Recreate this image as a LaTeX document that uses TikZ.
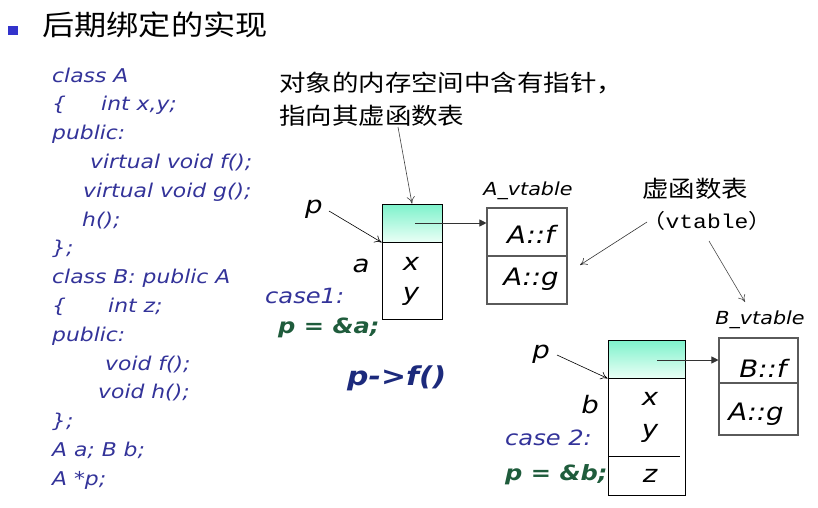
\documentclass[tikz,border=0pt]{standalone}
\usepackage{fontspec}
\setmainfont{DejaVu Sans}[FakeStretch=1.15]
\newfontfamily\cjk{Noto Sans CJK SC}[FakeStretch=1.15]
\newfontfamily\monof{Liberation Mono}[FakeStretch=1.15]
\usetikzlibrary{arrows.meta}
\definecolor{codeblue}{HTML}{333399}
\definecolor{codegreen}{HTML}{1F5C3C}
\definecolor{callblue}{HTML}{1C2A7C}
\definecolor{bulletblue}{HTML}{3333CC}
\definecolor{headtop}{HTML}{7DF2CB}
\definecolor{headbot}{HTML}{EAFFF6}
\definecolor{vtgray}{HTML}{5A5A5A}
\tikzset{
  txt/.style={inner sep=0pt, anchor=base west},
  code/.style={txt, text=codeblue, font=\fontsize{19}{20}\selectfont\itshape},
  casetxt/.style={txt, text=codeblue, font=\fontsize{21}{22}\selectfont\itshape},
  assign/.style={txt, text=codegreen, font=\fontsize{21}{22}\selectfont\bfseries\itshape},
  lbl/.style={inner sep=0pt, anchor=base, font=\fontsize{24}{24}\selectfont\itshape},
  cjktxt/.style={inner sep=0pt, anchor=west, font=\fontsize{23}{26}\cjk},
  objhead/.style={draw=black, line width=0.8pt, top color=headtop, bottom color=headbot, minimum width=#1, inner sep=0pt},
  objbody/.style={draw=black, line width=0.8pt, fill=white, minimum width=#1, inner sep=0pt},
  vtcell/.style={draw=vtgray, line width=1.1pt, fill=white, minimum width=#1, inner sep=0pt},
  openarr/.style={-{To[length=7pt,width=8pt]}, line width=0.6pt, draw=#1},
  solidarr/.style={-{Triangle[length=7pt,width=7pt]}, line width=0.8pt, draw=#1},
}
\begin{document}
\begin{tikzpicture}[x=1pt,y=-1pt]
\useasboundingbox (0,0) rectangle (818,507);
% title
\node[fill=bulletblue, minimum width=10pt, minimum height=9pt, inner sep=0pt] (bullet) at (13,30.5) {};
\node[inner sep=0pt, anchor=west, font=\fontsize{28}{30}\cjk] (title) at (42,25) {后期绑定的实现};
% code
\node[code] (c1) at (52,82) {class A};
\node[code] (c2a) at (52,110.8) {\{};
\node[code] (c2b) at (101,110.8) {int x,y;};
\node[code] (c3) at (52,139.6) {public:};
\node[code] (c4) at (90,168.4) {virtual void f();};
\node[code] (c5) at (83,197.2) {virtual void g();};
\node[code] (c6) at (82,226) {h();};
\node[code] (c7) at (52,254.8) {\};};
\node[code] (c8) at (52,283.6) {class B: public A};
\node[code] (c9a) at (52,312.4) {\{};
\node[code] (c9b) at (108,312.4) {int z;};
\node[code] (c10) at (52,341.2) {public:};
\node[code] (c11) at (105,370) {void f();};
\node[code] (c12) at (98,398.8) {void h();};
\node[code] (c13) at (52,427.6) {\};};
\node[code] (c14) at (52,456.4) {A a; B b;};
\node[code] (c15) at (52,485.2) {A *p;};
% note
\node[cjktxt] (note1) at (279,83) {对象的内存空间中含有指针，};
\node[cjktxt] (note2) at (279,116) {指向其虚函数表};
% object a
\node[objhead=60pt, minimum height=38pt] (ahead) at (412,223) {};
\node[objbody=60pt, minimum height=77pt] (abody) at (412,280.5) {};
\node[lbl] (ax) at (411,270) {x};
\node[lbl] (ay) at (411,300) {y};
\node[lbl] (alab) at (361,272) {a};
\node[lbl] (pa) at (314,213) {p};
% A vtable
\node[inner sep=0pt, anchor=base, font=\fontsize{18}{20}\selectfont\itshape] (avtlab) at (528,195) {A\_vtable};
\node[vtcell=80pt, minimum height=48pt] (avf) at (527,232) {};
\node[vtcell=80pt, minimum height=48pt] (avg) at (527,280) {};
\node[inner sep=0pt, anchor=base, font=\fontsize{24}{26}\selectfont\itshape] (avft) at (531,243) {A::f};
\node[inner sep=0pt, anchor=base, font=\fontsize{24}{26}\selectfont\itshape] (avgt) at (531,285) {A::g};
% case 1
\node[casetxt] (case1) at (265,303) {case1:};
\node[assign] (pea) at (278,333) {p = \&a;};
\node[inner sep=0pt, anchor=base west, text=callblue, font=\fontsize{26}{28}\selectfont\bfseries\itshape] (call) at (347,385) {p->f()};
% vtable note
\node[inner sep=0pt, anchor=center, font=\fontsize{23}{26}\cjk] (vtn1) at (695,189) {虚函数表};
\node[inner sep=0pt, anchor=center, font=\fontsize{20}{22}\monof] (vtn2) at (707,221) {{\cjk （}vtable{\cjk ）}};
% object b
\node[objhead=77pt, minimum height=38pt] (bhead) at (646.5,359) {};
\node[objbody=77pt, minimum height=117pt] (bbody) at (646.5,436.5) {};
\draw[line width=0.8pt] (608,456) -- (680,456);
\node[lbl] (bx) at (650,405) {x};
\node[lbl] (by) at (650,437) {y};
\node[lbl] (bz) at (650,482) {z};
\node[lbl] (blab) at (590,413) {b};
\node[lbl] (pb) at (541,358) {p};
% B vtable
\node[inner sep=0pt, anchor=base, font=\fontsize{18}{20}\selectfont\itshape] (bvtlab) at (760,324) {B\_vtable};
\node[vtcell=79pt, minimum height=45pt] (bvf) at (758.5,360.5) {};
\node[vtcell=79pt, minimum height=52pt] (bvg) at (758.5,409) {};
\node[inner sep=0pt, anchor=base, font=\fontsize{24}{26}\selectfont\itshape] (bvft) at (763,377) {B::f};
\node[inner sep=0pt, anchor=base, font=\fontsize{24}{26}\selectfont\itshape] (bvgt) at (756,420) {A::g};
% case 2
\node[casetxt] (case2) at (505,445) {case 2:};
\node[assign] (peb) at (505,480) {p = \&b;};
% connectors
\coordinate (n2a) at (398,127);
\coordinate (pas) at (329,211);
\coordinate (pbs) at (557,355);
\coordinate (ahc) at (415,223);
\coordinate (bhc) at (657,360);
\coordinate (vts1) at (647,222);
\coordinate (vte1) at (580,265);
\coordinate (vts2) at (709,241);
\coordinate (vte2) at (745,302);
\draw[openarr=black!75] (n2a) -- (ahead.north);
\draw[openarr=black] (pas) -- (ahead.south west);
\draw[solidarr=black!80] (ahc) -- (avf.west |- ahc);
\draw[openarr=black!80] (vts1) -- (vte1);
\draw[openarr=black!70] (vts2) -- (vte2);
\draw[openarr=black] (pbs) -- (bhead.south west);
\draw[solidarr=black!80] (bhc) -- (bvf.west |- bhc);
\end{tikzpicture}
\end{document}
